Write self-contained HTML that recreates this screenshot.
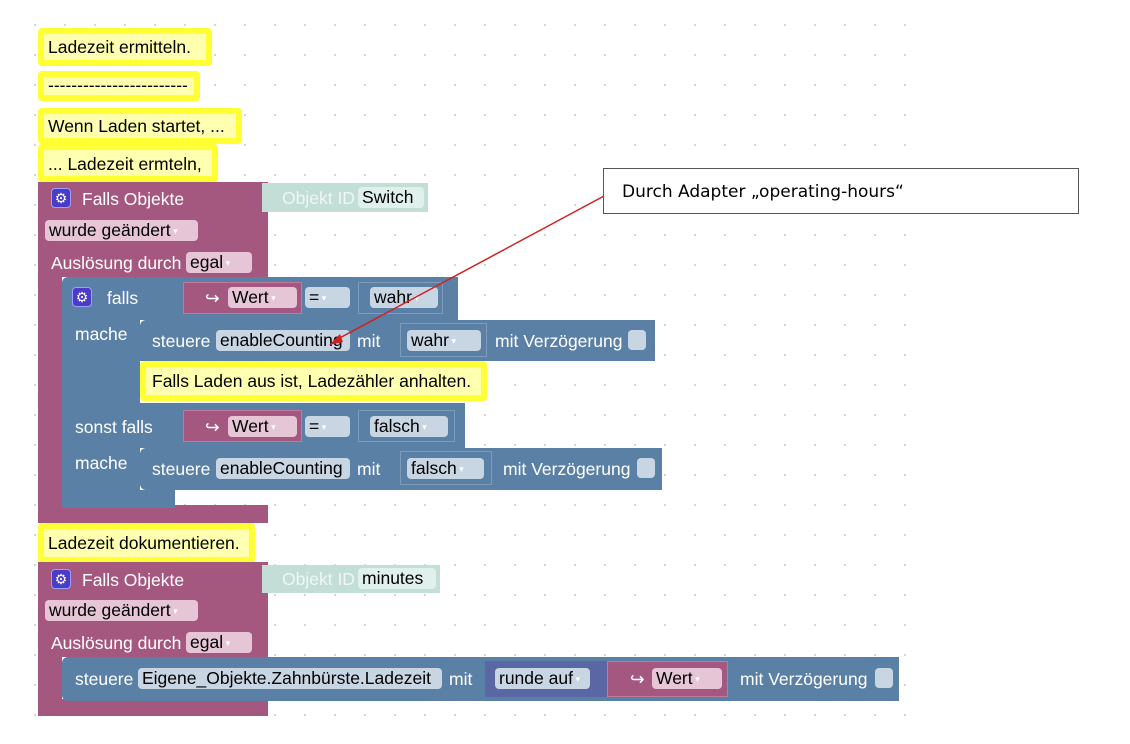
<!DOCTYPE html>
<html><head><meta charset="utf-8"><style>
body{margin:0;width:1130px;height:744px;background:#fff;position:relative;overflow:hidden;font-family:"Liberation Sans",Arial,sans-serif;font-size:17.5px}
.grid{position:absolute;left:20px;top:10px;width:890px;height:734px;background-image:radial-gradient(circle,#d4d4d4 1px,transparent 1.3px);background-size:30px 30px;background-position:0 0}
.a{position:absolute;box-sizing:border-box}
.m{background:#a5587f}
.b{background:#5b80a5}
.bd{background:#5b67a5}
.t{position:absolute;white-space:nowrap;color:#fff;line-height:22px}
.k{color:#000}
.f{position:absolute;box-sizing:border-box;border-radius:4px;white-space:nowrap;line-height:21px;height:21px;padding-left:4px;color:#000;overflow:hidden}
.fp{background:#e6c6d6}
.fb{background:#c8d6e4}
.ft{background:#e0f0ec}
.dd:after{content:" ▾";font-size:9px;color:#fff;vertical-align:2px}
.c{position:absolute;box-sizing:border-box;background:#ffffb0;border:6px solid #ffff33;border-radius:4px;color:#000;line-height:22px;padding-left:4px;white-space:nowrap}
.g{position:absolute;width:20px;height:20px;border-radius:4px;background:#4b3cc8;border:1px solid #9aa0ff;color:#fff;font-size:14px;line-height:19px;text-align:center;box-sizing:border-box}
.cb{position:absolute;width:18px;height:20px;border-radius:4px;background:#c8d6e4}
</style></head><body>
<div class="grid"></div>

<div class="c" style="left:38px;top:28px;width:174px;height:38px;padding-top:2px">Ladezeit ermitteln.</div>
<div class="c" style="left:38px;top:71px;width:162px;height:30px;line-height:16px">------------------------</div>
<div class="c" style="left:38px;top:108px;width:204px;height:36px;padding-top:1px">Wenn Laden startet, ...</div>
<div class="c" style="left:38px;top:144px;width:180px;height:38px;padding-top:3px">... Ladezeit ermteln,</div>

<!-- block 1 -->
<div class="a m" style="left:38px;top:182px;width:230px;height:95px"></div>
<div class="a m" style="left:38px;top:277px;width:24px;height:233px"></div>
<div class="a m" style="left:38px;top:505px;width:230px;height:18px"></div>
<div class="g" style="left:51px;top:188px">⚙</div>
<div class="t" style="left:82px;top:188px">Falls Objekte</div>
<div class="a" style="left:262px;top:183px;width:166px;height:29px;background:#c3ded7"></div>
<div class="t" style="left:282px;top:187px;color:#eef7f4">Objekt ID</div>
<div class="f ft" style="left:358px;top:187px;width:66px">Switch</div>
<div class="f fp dd" style="left:45px;top:220px;width:153px">wurde geändert</div>
<div class="t" style="left:51px;top:252px">Auslösung durch</div>
<div class="f fp dd" style="left:186px;top:252px;width:66px">egal</div>

<!-- blue if -->
<div class="a b" style="left:62px;top:277px;width:396px;height:43px;border-radius:6px 0 0 0"></div>
<div class="a b" style="left:62px;top:318px;width:78px;height:190px;border-radius:0 0 0 6px"></div>
<div class="a b" style="left:62px;top:403px;width:403px;height:45px"></div>
<div class="a b" style="left:62px;top:490px;width:113px;height:18px"></div>
<div class="g" style="left:72px;top:287px">⚙</div>
<div class="t" style="left:107px;top:287px">falls</div>
<div class="a m" style="left:183px;top:282px;width:119px;height:32px;border:1px solid #c07a9c"></div>
<div class="t" style="left:205px;top:287px">↪</div>
<div class="f fp dd" style="left:228px;top:287px;width:69px">Wert</div>
<div class="f fb dd" style="left:305px;top:287px;width:45px">=</div>
<div class="a" style="left:358px;top:282px;width:85px;height:32px;border:1px solid #7d9bbb"></div>
<div class="f fb dd" style="left:370px;top:287px;width:68px">wahr</div>
<div class="t" style="left:75px;top:323px">mache</div>

<div class="a b" style="left:140px;top:320px;width:515px;height:41px;border-radius:6px 0 0 0"></div>
<div class="t" style="left:152px;top:330px">steuere</div>
<div class="f fb" style="left:216px;top:330px;width:134px">enableCounting</div>
<div class="t" style="left:357px;top:330px">mit</div>
<div class="a" style="left:400px;top:323px;width:87px;height:34px;border:1px solid #7d9bbb"></div>
<div class="f fb dd" style="left:407px;top:330px;width:74px">wahr</div>
<div class="t" style="left:495px;top:330px">mit Verzögerung</div>
<div class="cb" style="left:628px;top:330px"></div>

<div class="c" style="left:140px;top:361px;width:347px;height:40px;padding-top:3px;padding-left:6px">Falls Laden aus ist, Ladezähler anhalten.</div>

<div class="t" style="left:75px;top:416px">sonst falls</div>
<div class="a m" style="left:183px;top:410px;width:119px;height:32px;border:1px solid #c07a9c"></div>
<div class="t" style="left:205px;top:416px">↪</div>
<div class="f fp dd" style="left:228px;top:416px;width:69px">Wert</div>
<div class="f fb dd" style="left:305px;top:416px;width:45px">=</div>
<div class="a" style="left:358px;top:410px;width:97px;height:32px;border:1px solid #7d9bbb"></div>
<div class="f fb dd" style="left:370px;top:416px;width:78px">falsch</div>
<div class="t" style="left:75px;top:452px">mache</div>

<div class="a b" style="left:140px;top:448px;width:522px;height:42px;border-radius:6px 0 0 6px"></div>
<div class="t" style="left:152px;top:458px">steuere</div>
<div class="f fb" style="left:216px;top:458px;width:134px">enableCounting</div>
<div class="t" style="left:357px;top:458px">mit</div>
<div class="a" style="left:400px;top:451px;width:92px;height:34px;border:1px solid #7d9bbb"></div>
<div class="f fb dd" style="left:407px;top:458px;width:77px">falsch</div>
<div class="t" style="left:503px;top:458px">mit Verzögerung</div>
<div class="cb" style="left:637px;top:458px"></div>

<div class="c" style="left:38px;top:523px;width:217px;height:40px;padding-top:3px">Ladezeit dokumentieren.</div>

<!-- block 2 -->
<div class="a m" style="left:38px;top:562px;width:230px;height:95px"></div>
<div class="a m" style="left:38px;top:657px;width:24px;height:50px"></div>
<div class="a m" style="left:38px;top:699px;width:230px;height:17px"></div>
<div class="g" style="left:51px;top:569px">⚙</div>
<div class="t" style="left:82px;top:569px">Falls Objekte</div>
<div class="a" style="left:262px;top:565px;width:178px;height:28px;background:#c3ded7"></div>
<div class="t" style="left:282px;top:568px;color:#eef7f4">Objekt ID</div>
<div class="f ft" style="left:358px;top:568px;width:78px">minutes</div>
<div class="f fp dd" style="left:45px;top:600px;width:153px">wurde geändert</div>
<div class="t" style="left:51px;top:632px">Auslösung durch</div>
<div class="f fp dd" style="left:186px;top:632px;width:66px">egal</div>

<div class="a b" style="left:62px;top:657px;width:837px;height:44px;border-radius:6px 0 0 6px"></div>
<div class="t" style="left:75px;top:668px">steuere</div>
<div class="f fb" style="left:138px;top:668px;width:304px">Eigene_Objekte.Zahnbürste.Ladezeit</div>
<div class="t" style="left:449px;top:668px">mit</div>
<div class="a bd" style="left:485px;top:661px;width:122px;height:36px"></div>
<div class="f fb dd" style="left:495px;top:668px;width:95px">runde auf</div>
<div class="a m" style="left:607px;top:661px;width:121px;height:36px;border:1px solid #c07a9c"></div>
<div class="t" style="left:630px;top:668px">↪</div>
<div class="f fp dd" style="left:652px;top:668px;width:70px">Wert</div>
<div class="t" style="left:740px;top:668px">mit Verzögerung</div>
<div class="cb" style="left:875px;top:668px"></div>

<!-- annotation -->
<div class="a" style="left:603px;top:168px;width:476px;height:46px;border:1px solid #555;background:#fff"></div>
<div class="t k" style="left:622px;top:181px;font-family:'DejaVu Sans','Liberation Sans',sans-serif;font-size:17px">Durch Adapter „operating-hours“</div>
<svg class="a" style="left:0;top:0" width="1130" height="744">
<line x1="604" y1="196" x2="336" y2="340" stroke="#d02020" stroke-width="1.5"/>
<polygon points="329,345 340,334 343,342" fill="#d02020"/>
</svg>
</body></html>
